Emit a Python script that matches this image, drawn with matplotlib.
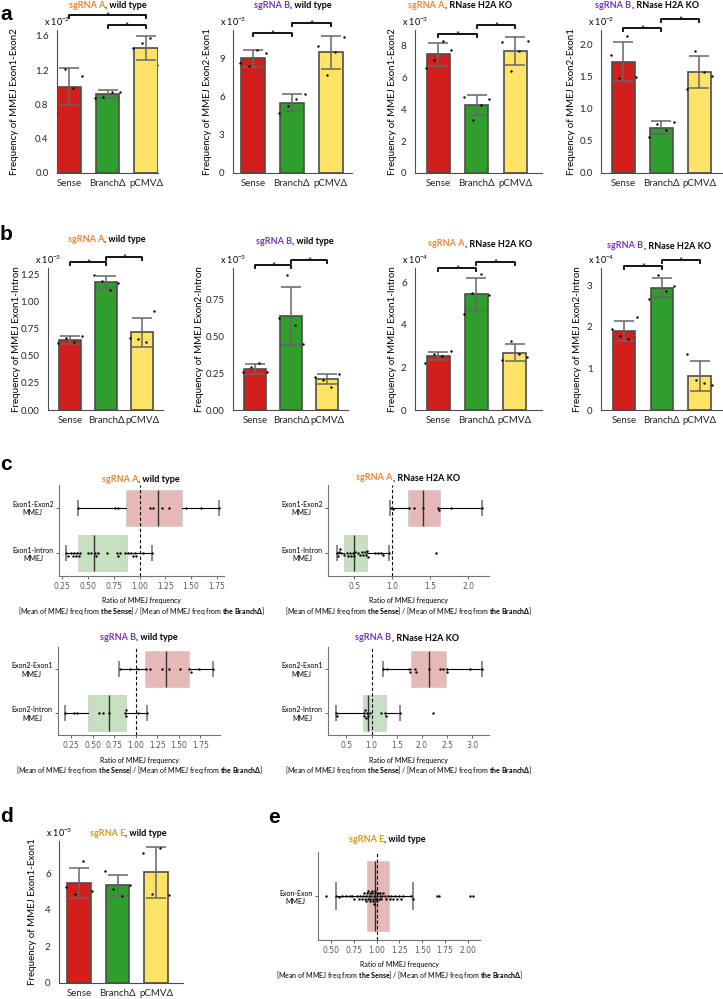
import numpy as np
import matplotlib
matplotlib.use('Agg')
import matplotlib.pyplot as plt
import matplotlib.transforms as mtransforms

plt.rcParams['font.family'] = ['Lato', 'DejaVu Sans']
plt.rcParams['mathtext.fontset'] = 'custom'
plt.rcParams['mathtext.rm'] = 'Lato'
plt.rcParams['mathtext.bf'] = 'Lato:bold'
plt.rcParams['mathtext.it'] = 'Lato:italic'

W, H = 723, 999

groups = ['Sense', 'BranchΔ', 'pCMVΔ']

# bar data, values in units of the axis multiplier (x 10^n)
a1_mean = [1.01, 0.92, 1.455]
a1_err = [0.22, 0.045, 0.14]
a1_pts = [[0.70, 1.21, 0.99, 1.13], [0.88, 0.89, 0.95, 0.95], [1.46, 1.52, 1.58, 1.26]]

a2_mean = [9.0, 5.5, 9.45]
a2_err = [0.66, 0.66, 1.28]
a2_pts = [[8.65, 8.35, 9.6, 9.4], [4.72, 5.25, 5.8, 6.17], [9.97, 7.69, 9.45, 10.63]]

a3_mean = [7.46, 4.26, 7.69]
a3_err = [0.73, 0.63, 0.87]
a3_pts = [[6.62, 7.14, 8.32, 7.73], [4.79, 3.36, 4.26, 4.66], [8.26, 6.43, 7.69, 8.3]]

a4_mean = [1.73, 0.70, 1.57]
a4_err = [0.305, 0.10, 0.245]
a4_pts = [[1.83, 1.47, 2.12, 1.49], [0.56, 0.76, 0.675, 0.79], [1.31, 1.89, 1.57, 1.50]]

b1_mean = [0.648, 1.182, 0.716]
b1_err = [0.037, 0.058, 0.132]
b1_pts = [[0.62, 0.66, 0.63, 0.685], [1.25, 1.19, 1.11, 1.17], [0.664, 0.655, 0.63, 0.917]]

b2_mean = [0.275, 0.637, 0.207]
b2_err = [0.034, 0.195, 0.034]
b2_pts = [[0.26, 0.29, 0.315, 0.255], [0.62, 0.912, 0.574, 0.446], [0.225, 0.202, 0.156, 0.241]]

b3_mean = [2.54, 5.44, 2.70]
b3_err = [0.21, 0.76, 0.41]
b3_pts = [[2.2, 2.64, 2.55, 2.77], [4.52, 5.52, 6.38, 5.42], [2.35, 3.26, 2.64, 2.51]]

b4_mean = [1.91, 2.95, 0.82]
b4_err = [0.24, 0.24, 0.36]
b4_pts = [[1.94, 1.78, 1.70, 2.23], [2.67, 3.25, 2.87, 2.99], [1.35, 0.72, 0.64, 0.60]]

d_mean = [5.47, 5.33, 6.05]
d_err = [0.82, 0.56, 1.38]
d_pts = [[5.27, 4.87, 6.65, 5.05], [6.11, 5.15, 4.75, 5.33], [7.09, 4.84, 7.36, 4.82]]

# ratio data: box stats are [whislo, q1, median, q3, whishi]
cA_wt_cats = ['Exon1-Exon2\nMMEJ', 'Exon1-Intron\nMMEJ']
cA_wt_stats = [[0.40, 0.873, 1.18, 1.41, 1.77], [0.29, 0.40, 0.56, 0.88, 1.12]]
cA_wt_pts = [[0.40, 0.76, 0.79, 1.10, 1.13, 1.22, 1.29, 1.45, 1.60, 1.77],
             [0.29, 0.305, 0.33, 0.35, 0.36, 0.38, 0.39, 0.41, 0.425, 0.50, 0.53, 0.565,
              0.58, 0.60, 0.68, 0.78, 0.79, 0.81, 0.86, 0.89, 0.92, 0.94, 0.955, 0.97, 1.03, 1.12]]

cA_ko_cats = ['Exon1-Exon2\nMMEJ', 'Exon1-Intron\nMMEJ']
cA_ko_stats = [[0.97, 1.21, 1.41, 1.63, 2.18], [0.27, 0.37, 0.50, 0.67, 0.96]]
cA_ko_pts = [[0.98, 1.01, 1.22, 1.29, 1.41, 1.61, 1.62, 1.78, 2.18],
             [0.27, 0.29, 0.30, 0.31, 0.33, 0.36, 0.40, 0.42, 0.44, 0.46, 0.48, 0.50, 0.51,
              0.55, 0.58, 0.60, 0.62, 0.64, 0.66, 0.67, 0.68, 0.77, 0.81, 0.85, 0.88, 0.96, 1.58]]

cB_wt_cats = ['Exon2-Exon1\nMMEJ', 'Exon2-Intron\nMMEJ']
cB_wt_stats = [[0.805, 1.105, 1.346, 1.62, 1.90], [0.18, 0.444, 0.689, 0.891, 1.125]]
cB_wt_pts = [[0.81, 0.93, 1.03, 1.12, 1.17, 1.30, 1.39, 1.51, 1.62, 1.64, 1.73, 1.90],
             [0.18, 0.28, 0.315, 0.57, 0.62, 0.69, 0.87, 0.88, 0.89, 1.02, 1.125]]

cB_ko_cats = ['Exon2-Exon1\nMMEJ', 'Exon2-Intron\nMMEJ']
cB_ko_stats = [[1.22, 1.79, 2.135, 2.485, 3.19], [0.30, 0.835, 0.93, 1.28, 1.56]]
cB_ko_pts = [[1.22, 1.30, 1.74, 1.77, 1.86, 1.88, 2.14, 2.35, 2.41, 2.49, 2.50, 2.95, 3.19],
             [0.30, 0.32, 0.84, 0.85, 0.86, 0.88, 0.90, 0.93, 0.97, 1.18, 1.26, 1.28, 1.56, 2.22]]

e_cats = ['Exon-Exon\nMMEJ']
e_stats = [[0.555, 0.897, 0.978, 1.136, 1.40]]
e_pts = [[0.44, 0.555, 0.58, 0.62, 0.66, 0.70, 0.73, 0.75, 0.78, 0.80, 0.82, 0.84, 0.85, 0.86,
          0.87, 0.88, 0.88, 0.89, 0.90, 0.90, 0.91, 0.92, 0.93, 0.93, 0.94, 0.95, 0.95, 0.96,
          0.96, 0.97, 0.97, 0.98, 0.98, 0.99, 1.00, 1.00, 1.01, 1.02, 1.03, 1.04, 1.05, 1.06,
          1.07, 1.09, 1.10, 1.12, 1.14, 1.16, 1.18, 1.20, 1.22, 1.25, 1.27, 1.29, 1.38, 1.40,
          1.66, 1.69, 2.03, 2.06]]

bar_colors = ['#d21f1b', '#2f9e2c', '#ffe366']
box_colors = ['#e6b9b8', '#c6e0c1']
ORANGE = '#f5822f'
PURPLE = '#7a35b5'
GOLD = '#d1a000'

fig = plt.figure(figsize=(W / 100, H / 100), dpi=100)


def px_axes(box):
    l, t, r, b = box
    return fig.add_axes([l / W, 1 - b / H, (r - l) / W, (b - t) / H])


def color_title(cx, cy, head, color, tail, size=6.5):
    t1 = fig.text(0, 1 - cy / H, head, color=color, fontsize=size, fontweight='bold',
                  ha='left', va='center_baseline')
    t2 = fig.text(0, 1 - cy / H, tail, color='black', fontsize=size, fontweight='bold',
                  ha='left', va='center_baseline')
    r = fig.canvas.get_renderer()
    w1 = t1.get_window_extent(r).width
    w2 = t2.get_window_extent(r).width
    x0 = cx - (w1 + w2) / 2
    t1.set_x(x0 / W)
    t2.set_x((x0 + w1) / W)


def bar_panel(box, xlim, ylim, mean, err, pts, yticks, fmt, ylabel, ylab_x, expo, brackets):
    ax = px_axes(box)
    l, t, r, b = box
    x = np.arange(len(groups))
    ax.bar(x, mean, width=0.6, color=bar_colors, edgecolor='0.3', linewidth=1.2, zorder=2)
    ax.errorbar(x, mean, yerr=err, fmt='none', ecolor='0.4', elinewidth=1.1,
                capsize=7, capthick=1.1, zorder=3)
    for i, p in enumerate(pts):
        ax.scatter(i + np.linspace(-0.33, 0.33, len(p)), p, s=3, color='black',
                   linewidths=0, zorder=4)
    ax.set_xlim(xlim)
    ax.set_ylim(ylim)
    ax.set_xticks(x, groups)
    ax.set_yticks(yticks, [fmt.format(v) for v in yticks])
    ax.tick_params(axis='both', length=0, labelsize=7, labelcolor='0.15')
    ax.tick_params(axis='y', pad=6)
    ax.tick_params(axis='x', pad=4)
    for s in ['top', 'right']:
        ax.spines[s].set_visible(False)
    for s in ['left', 'bottom']:
        ax.spines[s].set_color('0.3')
    ax.set_ylabel(ylabel, fontsize=7)
    ax.yaxis.set_label_coords((ylab_x + 4 - l) / (r - l), 0.5)
    ax.text(0, 1 + 2 / (b - t), r'x 10$^{%d}$' % expo, transform=ax.transAxes,
            ha='center', va='bottom', fontsize=6.5)
    trans = mtransforms.blended_transform_factory(ax.transData, ax.transAxes)
    for i0, i1, ypx in brackets:
        yf = (b - ypx) / (b - t)
        tk = 3 / (b - t)
        ax.plot([i0, i0, i1, i1], [yf - tk, yf, yf, yf - tk], color='black', lw=1.3,
                transform=trans, clip_on=False)
        # the asterisk glyph sits high in its em box, so put the baseline below the line
        ax.text((i0 + i1) / 2, yf - 4 / (b - t), '*', transform=trans, ha='center',
                va='baseline', fontsize=7)
    return ax


def swarm(vals, sx, sy, d=2.6):
    vals = np.asarray(vals, dtype=float)
    out = np.zeros(len(vals))
    placed = []
    cands = [0.0]
    for m in range(1, 60):
        cands += [m * d * 0.5, -m * d * 0.5]
    for i in np.argsort(vals):
        xp = vals[i] * sx
        for yp in cands:
            if all((xp - qx) ** 2 + (yp - qy) ** 2 >= d * d for qx, qy in placed):
                break
        placed.append((xp, yp))
        out[i] = yp / sy
    return out


XLAB = ('Ratio of MMEJ frequency\n[Mean of MMEJ freq from $\\mathbf{the\\ Sense}$] / '
        '[Mean of MMEJ freq from $\\mathbf{the\\ Branch\\Delta}$]')


def box_panel(box, xlim, xticks, fmt, cats, stats, pts):
    ax = px_axes(box)
    l, t, r, b = box
    n = len(cats)
    bst = [dict(whislo=s[0], q1=s[1], med=s[2], q3=s[3], whishi=s[4], fliers=[]) for s in stats]
    bp = ax.bxp(bst, positions=range(n), widths=0.8, orientation='horizontal',
                patch_artist=True, showfliers=False, capwidths=0.3,
                whiskerprops=dict(color='black', lw=0.8),
                capprops=dict(color='0.55', lw=1.4),
                medianprops=dict(color='0.2', lw=1.0),
                boxprops=dict(lw=0.6))
    for patch, c in zip(bp['boxes'], box_colors):
        patch.set_facecolor(c)
        patch.set_edgecolor('#cfcfcf')
    ax.set_xlim(xlim)
    ax.set_ylim(n - 0.5, -0.5)
    sx = (r - l) / (xlim[1] - xlim[0])
    sy = (b - t) / n
    for i, p in enumerate(pts):
        ax.scatter(p, i + swarm(p, sx, sy), s=3, color='black', linewidths=0, zorder=4)
    ax.axvline(1.0, color='black', ls=(0, (3, 2)), lw=0.8, zorder=5)
    ax.set_yticks(range(n), cats)
    for lab in ax.get_yticklabels():
        lab.set_multialignment('center')
    ax.set_xticks(xticks, [fmt.format(v) for v in xticks])
    for lab in ax.get_xticklabels():
        lab.set_fontfamily('DejaVu Sans')
    ax.tick_params(axis='y', length=2, width=0.6, labelsize=5, pad=2, color='0.3')
    ax.tick_params(axis='x', length=2, width=0.6, labelsize=5.5, pad=2, color='0.3',
                   labelcolor='0.35')
    for s in ['top', 'right']:
        ax.spines[s].set_visible(False)
    for s in ['left', 'bottom']:
        ax.spines[s].set_color('0.45')
        ax.spines[s].set_linewidth(0.8)
    ax.set_xlabel(XLAB, fontsize=5, labelpad=5, linespacing=1.1)
    return ax


# panel a
bar_panel((57, 30, 158, 173), (-0.31, 2.31), (0, 1.67), a1_mean, a1_err, a1_pts,
          [0, 0.4, 0.8, 1.2, 1.6], '{:.1f}', 'Frequency of MMEJ Exon1-Exon2', 15, -2,
          [(0, 2, 15), (1, 2, 25)])
bar_panel((233, 30, 352, 173), (-0.51, 2.54), (0, 11.2), a2_mean, a2_err, a2_pts,
          [0, 3, 6, 9], '{:.0f}', 'Frequency of MMEJ Exon2-Exon1', 208, -3,
          [(0, 1, 33), (1, 2, 23)])
bar_panel((415, 30, 542, 173), (-0.61, 2.70), (0, 9.0), a3_mean, a3_err, a3_pts,
          [0, 2, 4, 6, 8], '{:.0f}', 'Frequency of MMEJ Exon1-Exon2', 393, -3,
          [(0, 1, 34), (1, 2, 25)])
bar_panel((601, 30, 722, 173), (-0.58, 2.59), (0, 2.22), a4_mean, a4_err, a4_pts,
          [0, 0.5, 1.0, 1.5, 2.0], '{:.1f}', 'Frequency of MMEJ Exon2-Exon1', 572, -2,
          [(0, 1, 28), (1, 2, 19)])

# panel b
bar_panel((48, 268, 163, 410), (-0.61, 2.58), (0, 1.31), b1_mean, b1_err, b1_pts,
          [0, 0.25, 0.5, 0.75, 1.0, 1.25], '{:.2f}', 'Frequency of MMEJ Exon1-Intron', 17, -3,
          [(0, 1, 262), (1, 2, 257)])
bar_panel((233, 268, 348, 410), (-0.61, 2.58), (0, 0.96), b2_mean, b2_err, b2_pts,
          [0, 0.25, 0.5, 0.75], '{:.2f}', 'Frequency of MMEJ Exon2-Intron', 200, -3,
          [(0, 1, 265), (1, 2, 260)])
bar_panel((415, 268, 542, 410), (-0.60, 2.71), (0, 6.68), b3_mean, b3_err, b3_pts,
          [0, 2, 4, 6], '{:.0f}', 'Frequency of MMEJ Exon1-Intron', 393, -4,
          [(0, 1, 268), (1, 2, 262)])
bar_panel((601, 268, 722, 410), (-0.61, 2.59), (0, 3.42), b4_mean, b4_err, b4_pts,
          [0, 1, 2, 3], '{:.0f}', 'Frequency of MMEJ Exon2-Intron', 578, -4,
          [(0, 1, 266), (1, 2, 260)])

# panel c
box_panel((59, 485, 224, 576), (0.2175, 1.821), [0.25, 0.5, 0.75, 1.0, 1.25, 1.5, 1.75],
          '{:.2f}', cA_wt_cats, cA_wt_stats, cA_wt_pts)
box_panel((328, 485, 489, 576), (0.153, 2.276), [0.5, 1.0, 1.5, 2.0],
          '{:.1f}', cA_ko_cats, cA_ko_stats, cA_ko_pts)
box_panel((58, 647, 220, 735), (0.094, 1.98), [0.25, 0.5, 0.75, 1.0, 1.25, 1.5, 1.75],
          '{:.2f}', cB_wt_cats, cB_wt_stats, cB_wt_pts)
box_panel((328, 647, 489, 735), (0.135, 3.33), [0.5, 1.0, 1.5, 2.0, 2.5, 3.0],
          '{:.1f}', cB_ko_cats, cB_ko_stats, cB_ko_pts)

# panel d and e
bar_panel((59, 841, 183, 983), (-0.52, 2.70), (0, 7.76), d_mean, d_err, d_pts,
          [0, 2, 4, 6], '{:.0f}', 'Frequency of MMEJ Exon1-Exon1', 33, -3, [])
box_panel((318, 852, 480, 940), (0.353, 2.136), [0.5, 0.75, 1.0, 1.25, 1.5, 1.75, 2.0],
          '{:.2f}', e_cats, e_stats, e_pts)

# titles
color_title(108, 4, 'sgRNA A', ORANGE, ', wild type')
color_title(293, 4, 'sgRNA B', PURPLE, ', wild type')
color_title(460, 4, 'sgRNA A', ORANGE, ', RNase H2A KO')
color_title(647, 4, 'sgRNA B', PURPLE, ', RNase H2A KO')
color_title(107, 239, 'sgRNA A', ORANGE, ', wild type')
color_title(295, 240, 'sgRNA B', PURPLE, ', wild type')
color_title(480, 243, 'sgRNA A', ORANGE, ', RNase H2A KO')
color_title(659, 245, 'sgRNA B', PURPLE, ', RNase H2A KO')
color_title(141, 478, 'sgRNA A', ORANGE, ', wild type')
color_title(408, 477, 'sgRNA A', ORANGE, ', RNase H2A KO')
color_title(139, 637, 'sgRNA B', PURPLE, ', wild type')
color_title(407, 637, 'sgRNA B', PURPLE, ', RNase H2A KO')
color_title(128, 832, 'sgRNA E', GOLD, ', wild type')
color_title(387, 838, 'sgRNA E', GOLD, ', wild type')

# panel letters
for letter, lx, ly in [('a', 0, 20), ('b', 0, 240), ('c', 0, 470), ('d', 0, 822), ('e', 268, 823)]:
    fig.text(lx / W, 1 - ly / H, letter, fontsize=15, fontweight='bold',
             fontfamily='Liberation Sans', ha='left', va='baseline')

fig.savefig('out.png', dpi=100)
